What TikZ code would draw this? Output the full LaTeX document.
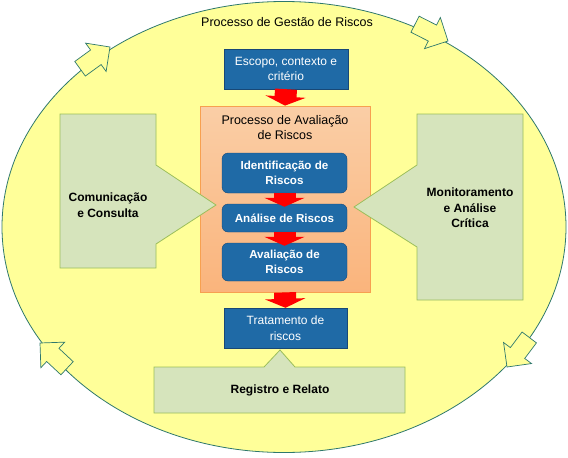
\documentclass[tikz,border=0pt]{standalone}
\usepackage{fontspec}
\setmainfont{Liberation Sans}
\usepackage{tikz}
\usetikzlibrary{positioning}
\usetikzlibrary{shapes.geometric}
\usetikzlibrary{arrows.meta}
\definecolor{cicloFill}{RGB}{255,255,153}
\definecolor{cicloLine}{RGB}{46,120,108}
\definecolor{blueFill}{RGB}{31,106,166}
\definecolor{blueLine}{RGB}{24,72,118}
\definecolor{greenFill}{RGB}{214,228,188}
\definecolor{greenLine}{RGB}{155,190,90}
\definecolor{orangeTop}{RGB}{250,206,166}
\definecolor{orangeBottom}{RGB}{250,180,124}
\definecolor{orangeLine}{RGB}{247,160,80}

\begin{document}
\begin{tikzpicture}[x=1pt,y=-1pt]

            \tikzstyle{cicloEllipse} = [ellipse, draw=cicloLine, fill=cicloFill, line width=0.8pt, inner sep=0pt];
            \tikzstyle{cicloArrow} = [draw=cicloLine, fill=cicloFill, line width=0.7pt, line join=miter];
            \tikzstyle{blueBox} = [rectangle, draw=blueLine, fill=blueFill, text=white, align=center, inner sep=0pt, font=\fontsize{12}{15.5}\selectfont];
            \tikzstyle{stepBox} = [blueBox, rounded corners=6pt, minimum width=125pt, font=\bfseries\fontsize{11.6}{15}\selectfont];
            \tikzstyle{greenShape} = [draw=greenLine, fill=greenFill, line width=0.8pt];
            \tikzstyle{greenText} = [align=center, font=\bfseries\fontsize{12}{15.5}\selectfont];
            \tikzstyle{redArrow} = [line width=22pt, red, -{Triangle[width=40pt,length=9pt]}];

            \useasboundingbox (0,0) rectangle (568,458);

            % outer cycle
            \node[cicloEllipse, minimum width=564pt, minimum height=451pt] (ciclo) at (284,227) {};
            \foreach \px/\py/\ang in {110/47/36, 448/41/-27, 507/367/-127, 40/343/137}
              \draw[cicloArrow, shift={(\px,\py)}, rotate=\ang]
                (0,0) -- (-17.5,17.5) -- (-17.5,9) -- (-37,9) -- (-37,-9) -- (-17.5,-9) -- (-17.5,-17.5) -- cycle;
            \node[font=\fontsize{12.5}{15}\selectfont] (titulo) at (287,22) {Processo de Gestão de Riscos};

            % central column
            \node[draw=orangeLine, top color=orangeTop, bottom color=orangeBottom, line width=0.8pt, minimum width=170pt, minimum height=186pt, inner sep=0pt] (aval) at (285,199) {};
            \node[align=center, font=\fontsize{12.5}{15}\selectfont] (avalTitulo) at (285,127.5) {Processo de Avaliação\\de Riscos};

            % side and bottom shapes
            \draw[greenShape] (60,114) -- (156,114) -- (156,165) -- (216,205) -- (156,244) -- (156,268) -- (60,268) -- cycle;
            \draw[greenShape] (417,114) -- (523,114) -- (523,300) -- (417,300) -- (417,247) -- (354,207) -- (417,165) -- cycle;
            \draw[greenShape] (154,367) -- (264,367) -- (280,350) -- (295,367) -- (405,367) -- (405,413) -- (154,413) -- cycle;
            \node[greenText] (comunic) at (108,205) {Comunicação\\e Consulta};
            \node[greenText] (monitor) at (470,208) {Monitoramento\\e Análise\\Crítica};
            \node[greenText] (registro) at (280,390) {Registro e Relato};

            \node[blueBox, minimum width=124pt, minimum height=40pt] (escopo) at (286,69) {Escopo, contexto e\\critério};
            \node[stepBox, minimum height=40pt] (ident) at (284.5,173) {Identificação de\\Riscos};
            \node[stepBox, minimum height=28pt] (analise) at (284.5,218) {Análise de Riscos};
            \node[stepBox, minimum height=38pt] (avalia) at (284.5,262) {Avaliação de\\Riscos};
            \node[blueBox, minimum width=123pt, minimum height=40pt] (tratam) at (285.5,328) {Tratamento de\\riscos};

            \draw[redArrow] (escopo.south) -- (aval.north);
            \draw[redArrow, shorten >=-3pt] (ident.south) -- (analise.north);
            \draw[redArrow, shorten >=-3pt] (analise.south) -- (avalia.north);
            \draw[redArrow] (aval.south) -- (tratam.north);
          \end{tikzpicture}
\end{document}
